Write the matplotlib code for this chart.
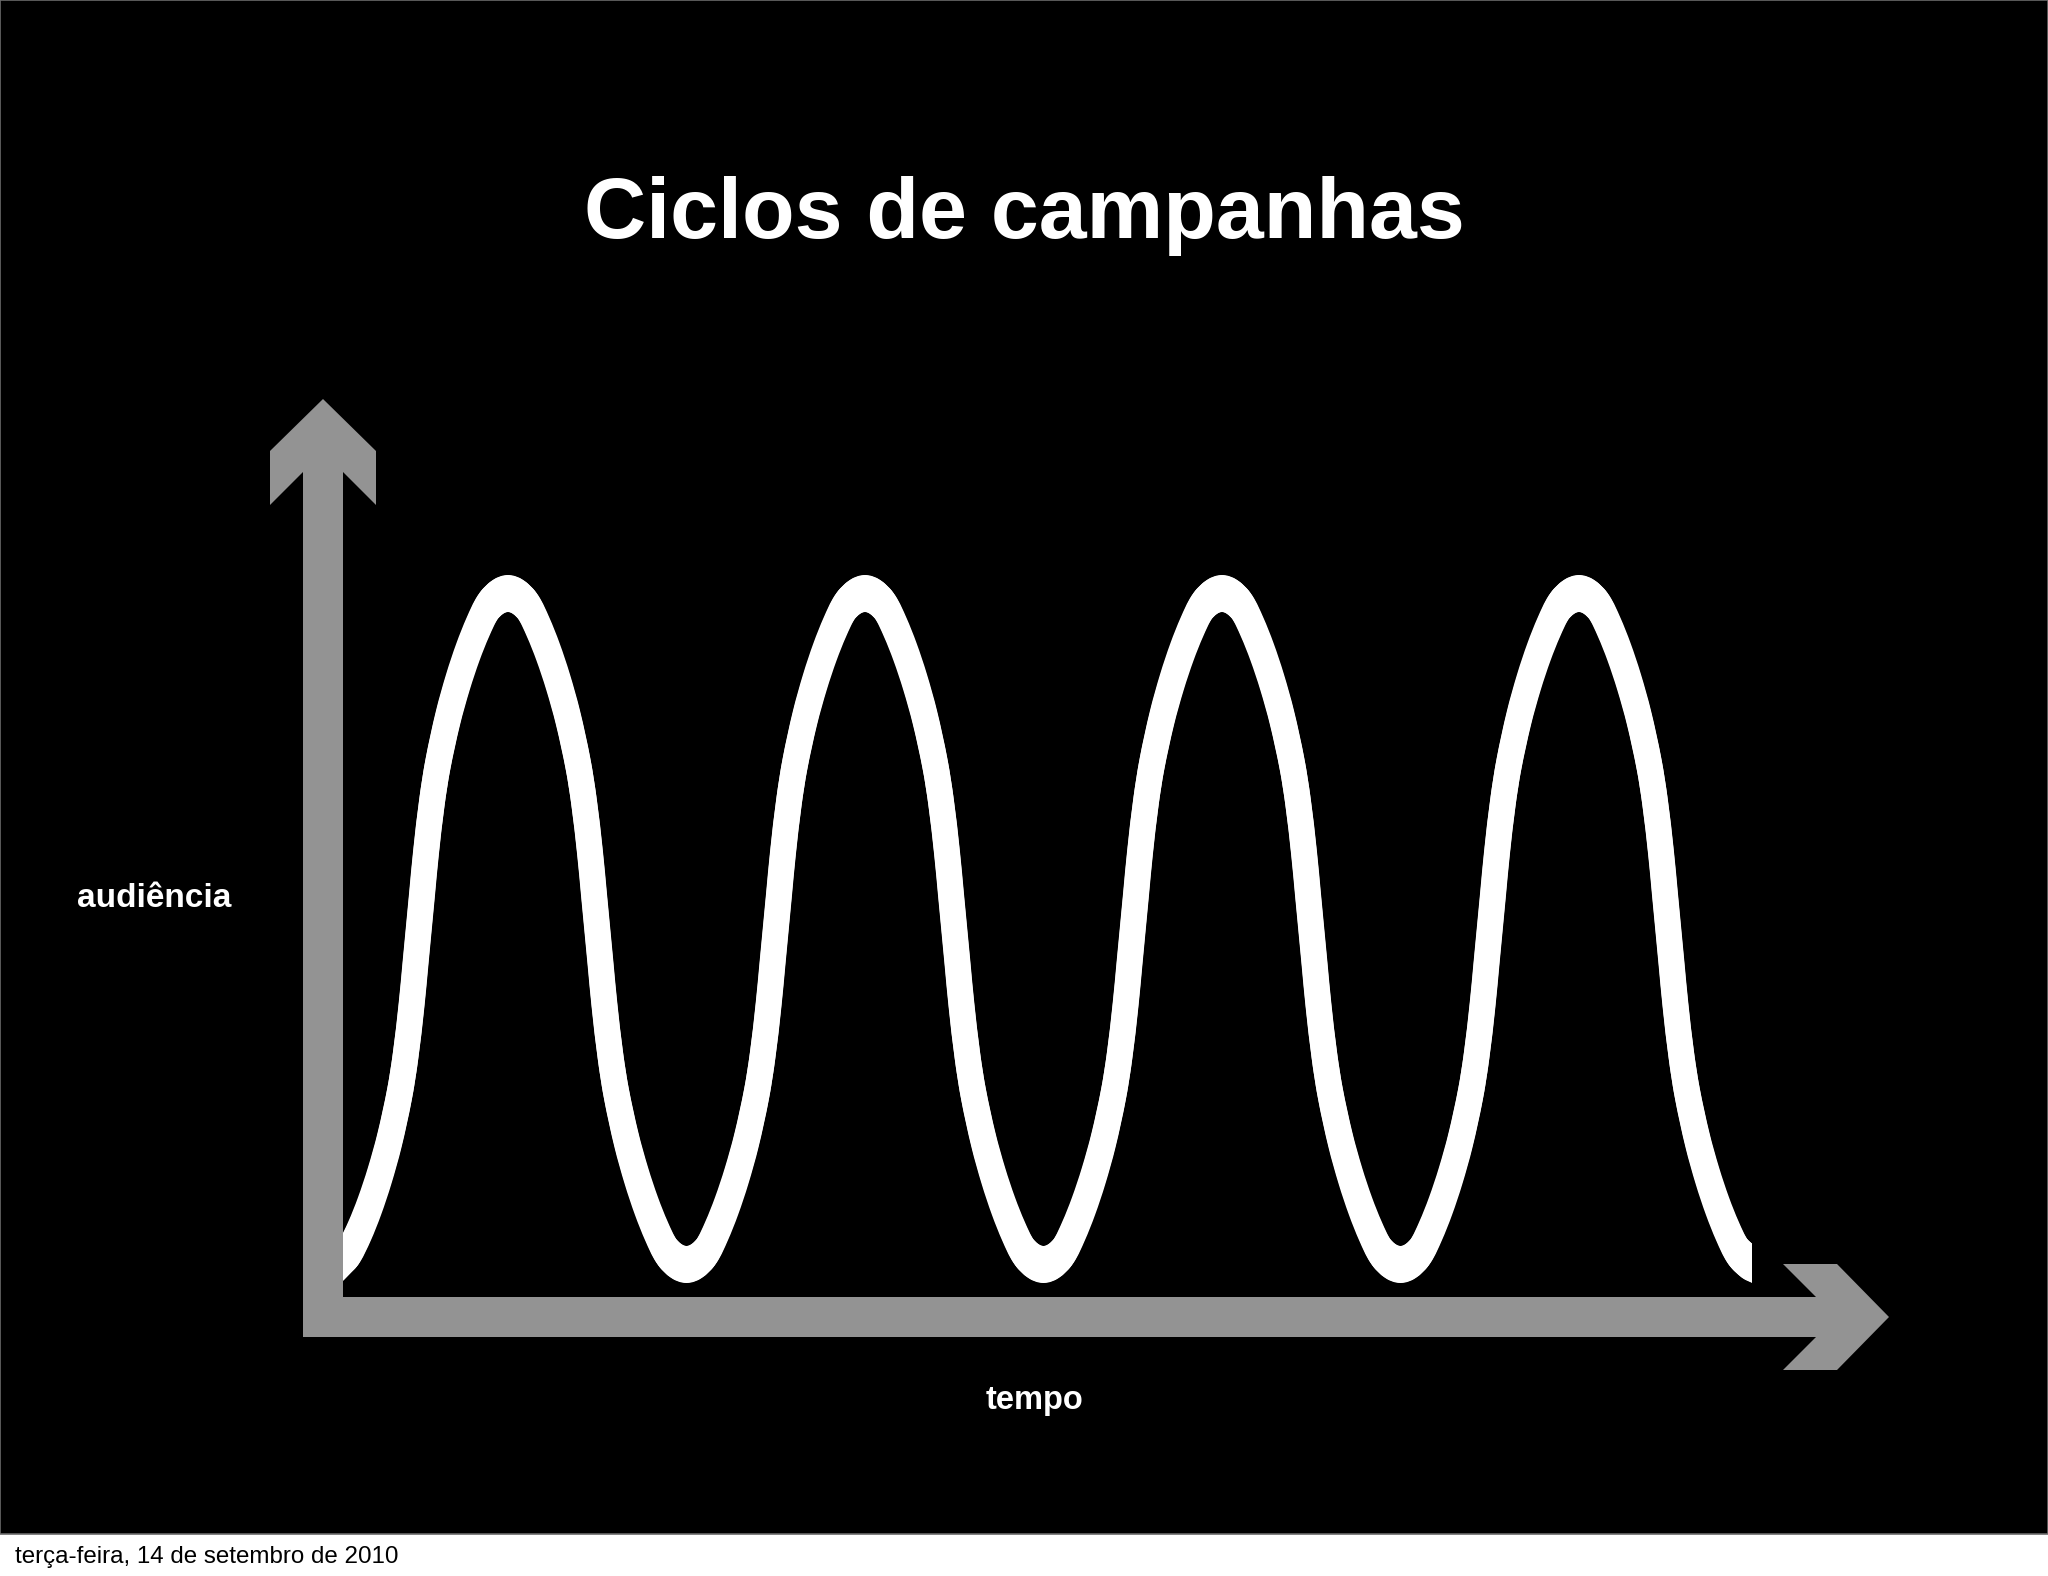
import numpy as np
import matplotlib
matplotlib.use("Agg")
import matplotlib.pyplot as plt
import matplotlib.font_manager as fm
from matplotlib.patches import Polygon, Rectangle, PathPatch
from matplotlib.path import Path
from matplotlib.transforms import ScaledTranslation

# ---------------- data ----------------
title = "Ciclos de campanhas"
x_label = "tempo"
y_label = "audiência"
footer = "terça-feira, 14 de setembro de 2010"

tempo = [0.0, 0.65, 1.65, 2.65, 3.65, 4.65, 5.65, 6.25, 6.85, 7.25, 7.575, 7.9, 8.3, 8.9, 9.5,
         10.5, 11.5, 12.5, 13.5, 14.5, 15.5, 16.5,
         17.5, 18.5, 19.5, 20.5, 21.5, 22.5, 23.5, 24.1, 24.7, 25.1, 25.425, 25.75, 26.15, 26.75, 27.35,
         28.35, 29.35, 30.35, 31.35, 32.35, 33.35, 34.35,
         35.35, 36.35, 37.35, 38.35, 39.35, 40.35, 41.35, 41.95, 42.55, 42.95, 43.275, 43.6, 44.0, 44.6, 45.2,
         46.2, 47.2, 48.2, 49.2, 50.2, 51.2, 52.2,
         53.2, 54.2, 55.2, 56.2, 57.2, 58.2, 59.2, 59.8, 60.4, 60.8, 61.125, 61.45, 61.85, 62.45, 63.05,
         64.05, 65.05, 66.05, 67.05, 68.05, 69.05, 70.05,
         71.05, 72.05, 73.05, 74.05, 75.05, 76.05, 77.05, 77.65, 78.25, 78.65, 78.975, 79.3, 79.7, 80.3, 80.9,
         81.9, 82.9, 83.9, 84.9, 85.9, 86.9, 87.9,
         88.9, 89.9, 90.9, 91.9, 92.9, 93.9, 94.9, 95.5, 96.1, 96.5, 96.825, 97.15, 97.55, 98.15, 98.75,
         99.75, 100.75, 101.75, 102.75, 103.75, 104.75, 105.75,
         106.75, 107.75, 108.75, 109.75, 110.75, 111.75, 112.75, 113.35, 113.95, 114.35, 114.675, 115.0, 115.4,
         116.0, 116.6, 117.6, 118.6, 119.6, 120.6, 121.6, 122.6, 123.6,
         124.6, 125.6, 126.6, 127.6, 128.6, 129.6, 130.6, 131.2, 131.8, 132.2, 132.525, 132.85, 133.25,
         133.85, 134.45, 135.45, 136.45, 137.45, 138.45, 139.45, 140.45, 140.9]

audiencia = [3.87, 4.58, 6.58, 9.08, 12.08, 15.68, 20.28, 24.06, 29.16, 33.36, 36.8, 40.24, 44.44, 49.54, 53.32,
             57.92, 61.52, 64.52, 67.02, 69.02, 70.01, 70.35,
             70.01, 69.02, 67.02, 64.52, 61.52, 57.92, 53.32, 49.54, 44.44, 40.24, 36.8, 33.36, 29.16, 24.06, 20.28,
             15.68, 12.08, 9.08, 6.58, 4.58, 3.59, 3.25,
             3.59, 4.58, 6.58, 9.08, 12.08, 15.68, 20.28, 24.06, 29.16, 33.36, 36.8, 40.24, 44.44, 49.54, 53.32,
             57.92, 61.52, 64.52, 67.02, 69.02, 70.01, 70.35,
             70.01, 69.02, 67.02, 64.52, 61.52, 57.92, 53.32, 49.54, 44.44, 40.24, 36.8, 33.36, 29.16, 24.06, 20.28,
             15.68, 12.08, 9.08, 6.58, 4.58, 3.59, 3.25,
             3.59, 4.58, 6.58, 9.08, 12.08, 15.68, 20.28, 24.06, 29.16, 33.36, 36.8, 40.24, 44.44, 49.54, 53.32,
             57.92, 61.52, 64.52, 67.02, 69.02, 70.01, 70.35,
             70.01, 69.02, 67.02, 64.52, 61.52, 57.92, 53.32, 49.54, 44.44, 40.24, 36.8, 33.36, 29.16, 24.06, 20.28,
             15.68, 12.08, 9.08, 6.58, 4.58, 3.59, 3.25,
             3.59, 4.58, 6.58, 9.08, 12.08, 15.68, 20.28, 24.06, 29.16, 33.36, 36.8, 40.24, 44.44, 49.54, 53.32,
             57.92, 61.52, 64.52, 67.02, 69.02, 70.01, 70.35,
             70.01, 69.02, 67.02, 64.52, 61.52, 57.92, 53.32, 49.54, 44.44, 40.24, 36.8, 33.36, 29.16, 24.06, 20.28,
             15.68, 12.08, 9.08, 6.58, 4.58, 3.59, 3.35]

# ---------------- fonts ----------------
names = {f.name for f in fm.fontManager.ttflist}
narrow = "Liberation Sans Narrow" in names
title_family = ["Liberation Sans Narrow", "DejaVu Sans"] if narrow else ["Liberation Sans", "DejaVu Sans"]
title_size = 72 if narrow else 62
label_family = ["Liberation Sans", "DejaVu Sans"]

# ---------------- figure ----------------
W, H, DPI = 2048, 1576, 100
fig = plt.figure(figsize=(W / DPI, H / DPI), dpi=DPI, facecolor="white")

ax = fig.add_axes([0, 0, 1, 1])
ax.set_facecolor("none")
ax.set_xlim(-34.3, 170.5)
ax.set_ylim(-27.9, 129.7)
ax.axis("off")

# black slide area with white footer strip (behind everything)
ax.add_patch(Rectangle((0, 42 / H), 1, 1 - 42 / H, transform=ax.transAxes,
                       facecolor="black", edgecolor="#6a6a6a", linewidth=1.2, zorder=0))

GRAY = "#939393"

# axis arrows (decoration)
shaft = 4.0          # shaft thickness
half_w = 5.3         # arrowhead half width
head_len = 5.2       # tip to front of wings
wing = 5.4           # wing thickness
cx = -shaft / 2
v_tip = 89.8
v_back = v_tip - head_len - wing
v_notch = v_back + (half_w - shaft / 2)
v_arrow = [(-shaft, -shaft), (-shaft, v_notch), (cx - half_w, v_back), (cx - half_w, v_tip - head_len),
           (cx, v_tip), (cx + half_w, v_tip - head_len), (cx + half_w, v_back),
           (0, v_notch), (0, -shaft)]
ax.add_patch(Polygon(v_arrow, closed=True, facecolor=GRAY, edgecolor="none", zorder=3))

h_tip = 154.6
cy = -shaft / 2
h_back = h_tip - head_len - wing
h_notch = h_back + (half_w - shaft / 2)
h_arrow = [(-shaft, 0), (h_notch, 0), (h_back, cy + half_w), (h_tip - head_len, cy + half_w),
           (h_tip, cy), (h_tip - head_len, cy - half_w), (h_back, cy - half_w),
           (h_notch, -shaft), (-shaft, -shaft)]
ax.add_patch(Polygon(h_arrow, closed=True, facecolor=GRAY, edgecolor="none", zorder=3))

# the wave: smooth (Bezier) path through the read points
m = min(len(tempo), len(audiencia))
P = np.column_stack([tempo[:m], audiencia[:m]])
n = len(P)
dirs = np.zeros_like(P)
for i in range(n):
    a = P[max(i - 1, 0)]
    b = P[min(i + 1, n - 1)]
    d = b - a
    dirs[i] = d / np.hypot(*d)
verts = [tuple(P[0])]
codes = [Path.MOVETO]
for i in range(n - 1):
    seg = np.hypot(*(P[i + 1] - P[i])) / 3.0
    c1 = P[i] + dirs[i] * seg
    c2 = P[i + 1] - dirs[i + 1] * seg
    verts += [tuple(c1), tuple(c2), tuple(P[i + 1])]
    codes += [Path.CURVE4] * 3
wave = Path(verts, codes)

# clean vertical cut at both ends of the wave
clip = Rectangle((P[0, 0], -50), P[-1, 0] - P[0, 0], 200, transform=ax.transData,
                 facecolor="none", edgecolor="none")

# elliptical "pen" (taller than wide), built from a few round strokes
pen = [(13.0, 0.0), (12.3, 4.5), (12.3, -4.5), (10.5, 7.5), (10.5, -7.5), (9.1, 9.4), (9.1, -9.4)]
for r, off in pen:
    tr = ax.transData + ScaledTranslation(0, off / DPI, fig.dpi_scale_trans)
    pp = PathPatch(wave, facecolor="none", edgecolor="white", lw=2 * r * 72 / DPI,
                   capstyle="projecting", joinstyle="round", transform=tr, zorder=2)
    ax.add_patch(pp)
    pp.set_clip_path(clip)

# texts
fig.text(0.5, 1 - 238 / H, title, ha="center", va="baseline", color="white",
         fontsize=title_size, fontweight="bold", family=title_family)
fig.text(77 / W, 1 - 907 / H, y_label, ha="left", va="baseline", color="white",
         fontsize=24, fontweight="bold", family=label_family)
fig.text(1035 / W, 1 - 1409 / H, x_label, ha="center", va="baseline", color="white",
         fontsize=23.5, fontweight="bold", family=label_family)
fig.text(15 / W, 1 - 1563 / H, footer, ha="left", va="baseline", color="black",
         fontsize=17.4, family=label_family)

fig.savefig("out.png", dpi=DPI, facecolor=fig.get_facecolor())
